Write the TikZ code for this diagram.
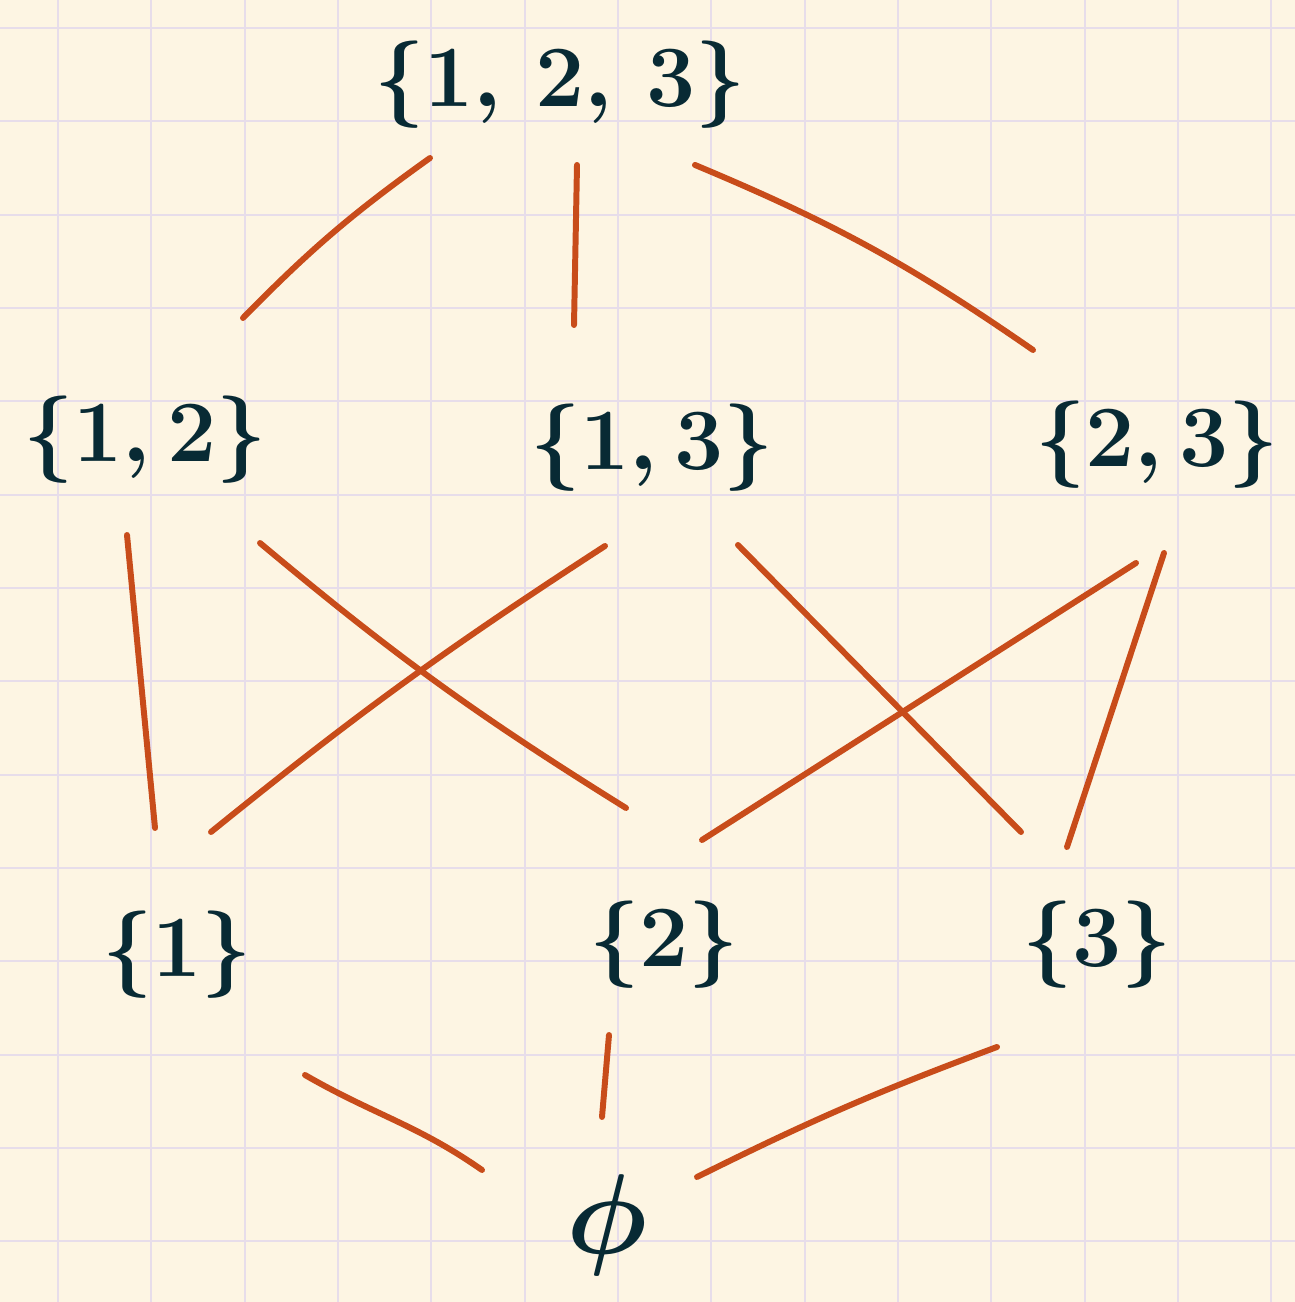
\documentclass[tikz,border=0pt]{standalone}
\usepackage{amsmath}
\usetikzlibrary{calc}

\definecolor{paper}{RGB}{253,245,227}
\definecolor{gridlin}{RGB}{231,221,234}
\definecolor{inkset}{RGB}{8,42,52}
\definecolor{inkedge}{RGB}{200,76,26}

\tikzset{
  setnode/.style={text=inkset, inner sep=0pt, font=\Huge\boldmath, scale=2},
  link/.style={draw=inkedge, line width=3.4pt, line cap=round},
  gridline/.style={draw=gridlin, line width=1pt}
}

\begin{document}
\begin{tikzpicture}[x=0.02cm, y=0.02cm]

    % --- Paper and grid ---
    \fill[paper] (0,0) rectangle (1295,1302);
    \useasboundingbox (0,0) rectangle (1295,1302);
    \foreach \k in {0,...,13} {
        \draw[gridline] ({58+93.33*\k},0) -- ++(0,1302);
        \draw[gridline] (0,{1274-93.33*\k}) -- ++(1295,0);
    }

    % --- Subsets ---
    \node[setnode] (top) at (560,1217) {$\{1,\,2,\,3\}$};
    \node[setnode] (n12) at (145,862) {$\{1,2\}$};
    \node[setnode] (n13) at (652,854) {$\{1,3\}$};
    \node[setnode] (n23) at (1157,857) {$\{2,3\}$};
    \node[setnode] (n1) at (177,347) {$\{1\}$};
    \node[setnode] (n2) at (664,357) {$\{2\}$};
    \node[setnode] (n3) at (1097,357) {$\{3\}$};
    \node[setnode, scale=1.3] (empty) at (607,77) {$\phi$};

    % --- Top level ---
    \draw[link] ($(top)+(-130,-73)$) to[bend right=5] ($(n12)+(98,122)$);
    \draw[link] ($(top)+(17,-80)$) -- ($(n13)+(-78,123)$);
    \draw[link] ($(top)+(135,-80)$) to[bend left=6] ($(n23)+(-124,95)$);

    % --- Middle level ---
    \draw[link] ($(n12)+(-18,-95)$) -- ($(n1)+(-22,127)$);
    \draw[link] ($(n12)+(115,-103)$) to[bend right=4] ($(n2)+(-38,137)$);
    \draw[link] ($(n13)+(-47,-98)$) to[bend right=3] ($(n1)+(34,123)$);
    \draw[link] ($(n13)+(86,-97)$) -- ($(n3)+(-76,113)$);
    \draw[link] ($(n23)+(-21,-118)$) -- ($(n2)+(38,105)$);
    \draw[link] ($(n23)+(7,-108)$) -- ($(n3)+(-30,98)$);

    % --- Bottom level ---
    \draw[link] ($(n1)+(128,-120)$) to[out=-30, in=145] ($(empty)+(-125,55)$);
    \draw[link] ($(n2)+(-55,-90)$) -- ($(empty)+(-5,108)$);
    \draw[link] ($(n3)+(-100,-102)$) to[bend right=3] ($(empty)+(90,48)$);

\end{tikzpicture}
\end{document}
